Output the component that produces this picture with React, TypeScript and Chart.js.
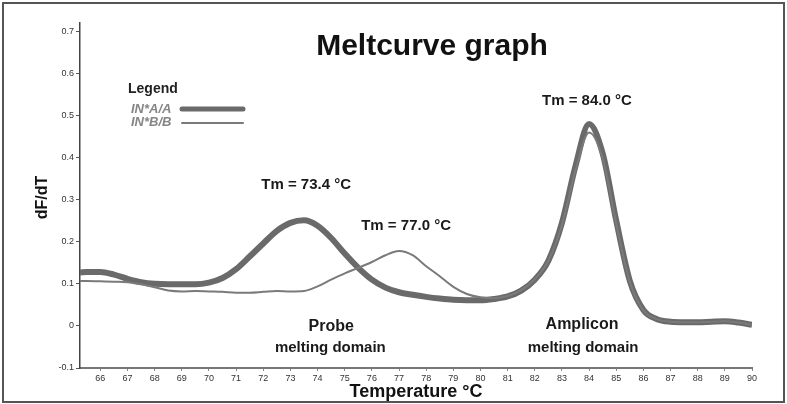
import React, { useEffect, useRef } from "react";
import { Chart, registerables } from "chart.js";

Chart.register(...registerables);

// ---- Data ----
const temperatures = [
  65.25, 65.5, 66, 66.5, 67, 67.5, 68, 68.5, 69, 69.5, 70, 70.5, 71, 71.5, 72, 72.5,
  73, 73.5, 74, 74.5, 75, 75.5, 76, 76.5, 77, 77.5, 78, 78.5, 79, 79.5, 80, 80.5,
  81, 81.5, 82, 82.5, 83, 83.5, 84, 84.5, 85, 85.5, 86, 86.5, 87, 87.5, 88, 88.5,
  89, 89.5, 90,
];

const seriesAA = [
  0.127, 0.128, 0.128, 0.122, 0.112, 0.104, 0.1, 0.099, 0.099, 0.099, 0.103, 0.114,
  0.135, 0.165, 0.196, 0.226, 0.245, 0.251, 0.238, 0.209, 0.172, 0.138, 0.11, 0.091,
  0.08, 0.074, 0.069, 0.065, 0.062, 0.061, 0.061, 0.064, 0.07, 0.084, 0.11, 0.155,
  0.245, 0.38, 0.48, 0.41, 0.25, 0.107, 0.038, 0.016, 0.01, 0.009, 0.009, 0.01,
  0.011, 0.008, 0.003,
];

const seriesBB = [
  0.107, 0.107, 0.106, 0.105, 0.104, 0.099, 0.092, 0.084, 0.082, 0.083, 0.082, 0.081,
  0.079, 0.079, 0.081, 0.083, 0.082, 0.083, 0.094, 0.11, 0.125, 0.138, 0.152, 0.168,
  0.178, 0.168, 0.142, 0.118, 0.093, 0.076, 0.068, 0.066, 0.071, 0.085, 0.111, 0.155,
  0.24, 0.37, 0.46, 0.398, 0.243, 0.104, 0.037, 0.016, 0.01, 0.009, 0.009, 0.01,
  0.011, 0.008, 0.003,
];

const seriesNames = ["IN*A/A", "IN*B/B"];
const xTickValues = [66, 67, 68, 69, 70, 71, 72, 73, 74, 75, 76, 77, 78, 79, 80, 81, 82, 83, 84, 85, 86, 87, 88, 89, 90];
const yTickValues = [-0.1, 0, 0.1, 0.2, 0.3, 0.4, 0.5, 0.6, 0.7];

const chartTitle = "Meltcurve graph";
const xTitle = "Temperature °C";
const yTitle = "dF/dT";
const legendTitle = "Legend";

// annotation labels anchored in data units (temperature, dF/dT)
const annotationTexts = ["Tm = 73.4 °C", "Tm = 77.0 °C", "Tm = 84.0 °C", "Probe", "melting domain", "Amplicon", "melting domain"];
const annotationTemps = [73.58, 77.26, 83.92, 74.5, 74.47, 83.74, 83.78];
const annotationValues = [0.325, 0.228, 0.525, -0.012, -0.062, -0.007, -0.062];
const annotationSizes = [15, 15, 15, 16, 15, 16, 15];

const FONT = "'Liberation Sans', Arial, sans-serif";
const LINE_COLOR_AA = "#6a6a6a";
const LINE_COLOR_BB = "#7a7a7a";

const textPlugin = {
  id: "meltText",
  afterDraw(chart: any) {
    const { ctx, chartArea: a, scales } = chart;
    const xs = scales.x;
    const ys = scales.y;
    ctx.save();

    // Title
    ctx.fillStyle = "#111";
    ctx.textAlign = "center";
    ctx.textBaseline = "alphabetic";
    ctx.font = `bold 30px ${FONT}`;
    ctx.fillText(chartTitle, (a.left + a.right) / 2 + 16, a.top + 32);

    // X title
    ctx.font = `bold 18px ${FONT}`;
    ctx.fillText(xTitle, (a.left + a.right) / 2, a.bottom + 29);

    // Y title
    ctx.save();
    ctx.translate(a.left - 37, (a.top + a.bottom) / 2 + 2);
    ctx.rotate(-Math.PI / 2);
    ctx.textBaseline = "middle";
    ctx.font = `bold 16px ${FONT}`;
    ctx.fillText(yTitle, 0, 0);
    ctx.restore();

    // Annotations
    ctx.fillStyle = "#1a1a1a";
    ctx.textAlign = "center";
    ctx.textBaseline = "alphabetic";
    annotationTexts.forEach((t, i) => {
      ctx.font = `bold ${annotationSizes[i]}px ${FONT}`;
      ctx.fillText(t, xs.getPixelForValue(annotationTemps[i]), ys.getPixelForValue(annotationValues[i]));
    });

    // Legend
    ctx.textAlign = "left";
    ctx.fillStyle = "#222";
    ctx.font = `bold 14px ${FONT}`;
    ctx.fillText(legendTitle, a.left + 48, a.top + 70);
    ctx.fillStyle = "#858585";
    ctx.font = `italic bold 13px ${FONT}`;
    ctx.fillText(seriesNames[0], a.left + 51, a.top + 90);
    ctx.fillText(seriesNames[1], a.left + 51, a.top + 103);
    ctx.lineCap = "round";
    ctx.strokeStyle = LINE_COLOR_AA;
    ctx.lineWidth = 5;
    ctx.beginPath();
    ctx.moveTo(a.left + 102, a.top + 86);
    ctx.lineTo(a.left + 163, a.top + 86);
    ctx.stroke();
    ctx.strokeStyle = LINE_COLOR_BB;
    ctx.lineWidth = 2;
    ctx.beginPath();
    ctx.moveTo(a.left + 102, a.top + 100);
    ctx.lineTo(a.left + 163, a.top + 100);
    ctx.stroke();

    ctx.restore();
  },
};

export default function App() {
  const canvasRef = useRef<HTMLCanvasElement | null>(null);

  useEffect(() => {
    if (!canvasRef.current) return;
    const chart = new Chart(canvasRef.current, {
      type: "line",
      data: {
        labels: temperatures,
        datasets: [
          {
            label: seriesNames[0],
            data: temperatures.map((t, i) => ({ x: t, y: seriesAA[i] })),
            borderColor: LINE_COLOR_AA,
            borderWidth: 6,
            pointRadius: 0,
            cubicInterpolationMode: "monotone",
            fill: false,
            order: 2,
          },
          {
            label: seriesNames[1],
            data: temperatures.map((t, i) => ({ x: t, y: seriesBB[i] })),
            borderColor: LINE_COLOR_BB,
            borderWidth: 2,
            pointRadius: 0,
            cubicInterpolationMode: "monotone",
            fill: false,
            order: 1,
          },
        ],
      },
      options: {
        animation: false,
        responsive: false,
        layout: { padding: { left: 0, top: 23, right: 35, bottom: 0 } },
        plugins: {
          legend: { display: false },
          title: { display: false },
          tooltip: { enabled: false },
        },
        scales: {
          x: {
            type: "linear",
            min: 65.25,
            max: 90,
            afterBuildTicks: (scale: any) => {
              scale.ticks = xTickValues.map((value) => ({ value }));
            },
            afterFit: (scale: any) => {
              scale.height = 36;
            },
            grid: { drawOnChartArea: false, drawTicks: true, tickLength: 3, tickColor: "#888" },
            border: { display: true, color: "#777", width: 2 },
            ticks: {
              autoSkip: false,
              maxRotation: 0,
              padding: 2,
              color: "#333",
              font: { size: 9, family: FONT },
              callback: (v: any) => String(v),
            },
          },
          y: {
            type: "linear",
            min: -0.1,
            max: 0.72,
            afterBuildTicks: (scale: any) => {
              scale.ticks = yTickValues.map((value) => ({ value }));
            },
            afterFit: (scale: any) => {
              scale.width = 80;
            },
            grid: { drawOnChartArea: false, drawTicks: true, tickLength: 4, tickColor: "#555" },
            border: { display: true, color: "#444", width: 1.5 },
            ticks: {
              autoSkip: false,
              padding: 2,
              color: "#333",
              font: { size: 9, family: FONT },
              callback: (v: any) => String(v),
            },
          },
        },
      },
      plugins: [textPlugin],
    } as any);
    return () => chart.destroy();
  }, []);

  return (
    <div style={{ position: "fixed", left: 0, top: 0, width: 787, height: 404, background: "#fff" }}>
      <canvas ref={canvasRef} width={787} height={404} style={{ position: "absolute", left: 0, top: 0 }} />
      <div
        style={{
          position: "absolute",
          left: 2,
          top: 2,
          width: 783,
          height: 401,
          border: "2px solid #555",
          boxSizing: "border-box",
          pointerEvents: "none",
        }}
      />
    </div>
  );
}
